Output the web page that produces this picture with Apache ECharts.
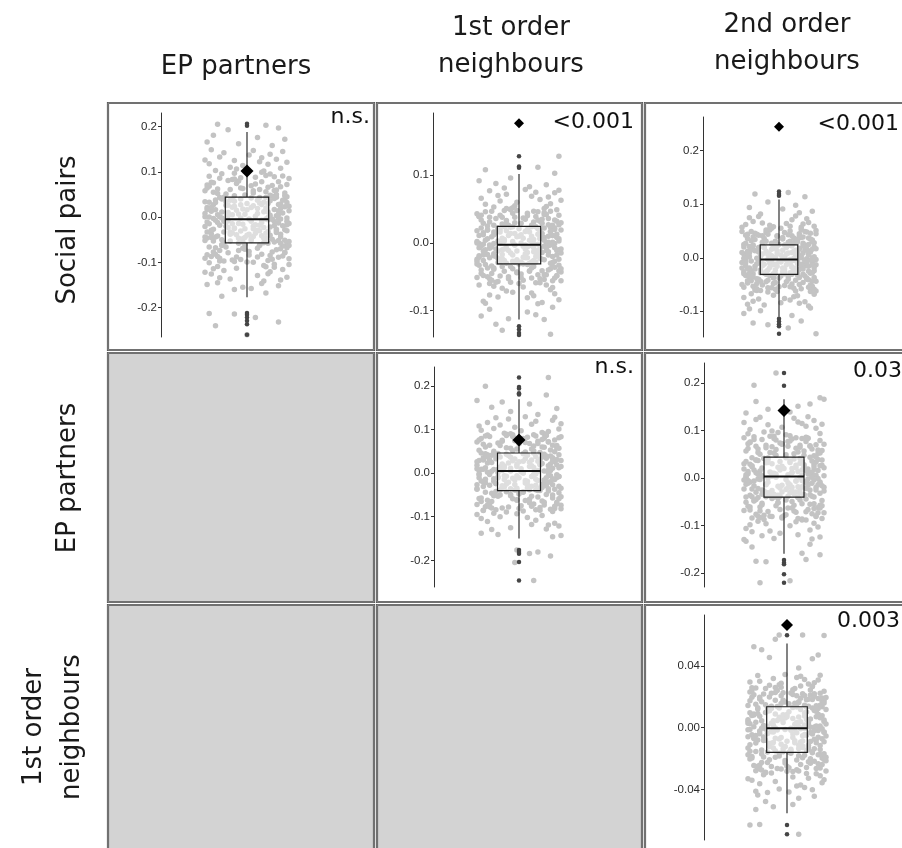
<!DOCTYPE html>
<html>
<head>
<meta charset="utf-8">
<script src="https://cdn.jsdelivr.net/npm/echarts@6/dist/echarts.min.js"></script>
<style>
  html, body { margin: 0; padding: 0; background: #fff; }
  #chart { width: 902px; height: 848px; }
</style>
</head>
<body>
<div id="chart"></div>
<script>
// ---- Matrix labels -------------------------------------------------------
const columnGroups = [['EP partners'], ['1st order', 'neighbours'], ['2nd order', 'neighbours']];
const rowGroups = [['Social pairs'], ['EP partners'], ['1st order', 'neighbours']];

// ---- Permutation distributions ------------------------------------------
// Each cloud point: [jitter step (-20..20), value in thousandths]
const spEpCloud = [
  [-14,205],[9,203],[-16,181],[18,172],[-4,162],[12,158],[-9,193],[5,176],[-19,166],[15,197],
  [-11,142],[7,131],[-18,118],[3,147],[16,108],[-6,125],[11,139],[-15,103],[19,121],[-2,114],[8,102],[-13,133],[14,128],[-8,110],[1,137],[-20,126],[17,145],[-5,106],[10,117],[-17,149],[6,122],[-1,101],
  [-12,96],[4,88],[-19,71],[13,59],[-7,83],[18,47],[-3,64],[9,92],[-16,55],[15,78],[-10,51],[2,69],[20,85],[-14,62],[7,99],[-5,74],[12,46],[-18,90],[16,67],[-9,81],[3,53],[-20,58],[11,95],[-1,49],[19,72],[-13,86],[6,61],[-6,97],[14,50],[-17,77],[10,66],[-11,44],[17,91],
  [-15,38],[8,12],[-3,27],[19,-2],[-11,41],[5,19],[14,3],[-18,33],[1,-4],[-7,22],[11,36],[-20,8],[16,29],[-5,15],[9,43],[-13,1],[3,25],[18,39],[-9,10],[13,17],[-16,-3],[6,31],[-1,6],[20,24],[-12,40],[10,-1],[-6,35],[15,14],[-19,21],[2,42],[-14,5],[7,28],[17,9],[-8,37],[12,-5],[-2,18],[19,32],[-17,13],[4,2],[-10,26],[14,44],[-4,7],[9,20],[-20,34],[16,-4],[0,30],[-15,16],[11,4],[-7,39],[18,23],[-12,11],[5,37],[-18,0],[13,41],[-3,-2],[8,33],[-16,27],[20,14],[-9,3],[2,21],[-13,43],[15,6],[-6,24],[10,30],[-19,17],
  [-14,-12],[7,-41],[-2,-55],[18,-28],[-9,-8],[12,-49],[-19,-33],[4,-17],[15,-52],[-6,-24],[10,-6],[-17,-45],[1,-38],[20,-14],[-11,-56],[6,-30],[-4,-47],[13,-10],[-20,-21],[9,-36],[-8,-53],[17,-19],[-15,-7],[3,-43],[-1,-26],[14,-34],[-12,-50],[19,-9],[-5,-39],[11,-22],[-18,-15],[8,-57],[-3,-31],[16,-44],[-10,-11],[2,-48],[-16,-27],[12,-5],[-7,-35],[20,-54],[-13,-18],[5,-29],[-19,-46],[15,-13],[0,-40],[-9,-23],[18,-51],[-2,-16],[10,-32],[-14,-42],[7,-7],[-6,-25],[13,-55],[-17,-37],[3,-20],[19,-30],[-11,-9],[9,-47],[-4,-14],[16,-38],[-20,-52],[6,-18],[-8,-33],[14,-27],[-15,-44],
  [-12,-63],[5,-88],[-18,-101],[14,-72],[-3,-94],[19,-59],[-9,-79],[8,-107],[-15,-68],[11,-85],[-6,-98],[17,-64],[1,-76],[-20,-91],[13,-104],[-1,-61],[7,-82],[-14,-109],[16,-70],[-7,-95],[10,-58],[-17,-87],[3,-100],[18,-78],[-10,-66],[12,-93],[-4,-74],[20,-105],[-19,-83],[6,-62],[-13,-97],[15,-89],[-2,-69],[9,-110],[-16,-77],
  [-11,-118],[8,-141],[-17,-126],[15,-152],[-5,-113],[19,-133],[2,-158],[-14,-145],[11,-121],[-8,-137],[17,-116],[-19,-149],[5,-129],[-2,-155],[13,-111],[-13,-134],[7,-147],[-20,-122],[16,-139],[-6,-160],[10,-125],[-16,-114],
  [-12,-175],[9,-168],[-18,-213],[-6,-214],[4,-222],[15,-232],[-15,-240],[0,-260],
  [-17,22],[4,-36],[-8,61],[13,-19],[-1,-71],[19,45],[-12,-2],[7,78],[-20,-44],[10,11],[-5,-88],[16,-58],[-14,52],[2,-9],[18,-79],[-10,34],[6,-62],[-3,87],[14,-30],[-18,-66],[9,56],[-7,-15],[20,-92],[0,16],[-15,-82],[12,70],[-2,-48],[17,37],[-11,-97],[5,8],[-19,64],[11,-40],[-6,47],[15,-3],[-13,-74],[3,58],[-16,-53],[8,-23],[-4,80],[19,-68],[-9,26],[1,-84],[13,89],[-17,-29],[6,43],[-12,-61],[16,19],[-1,-45],[10,-96],[-20,1],[4,73],[-8,-38],[18,53],[-14,-87],[7,-12],[-3,40],[12,-77],[-18,68],[2,-52],[15,28],[-10,-20],[20,-63],[-6,84],[9,-4],[-15,32],[0,-99],[14,60],[-11,-33],[5,-69],[-19,-11],[11,48],[-4,-58],[17,-86],[-7,5],[3,-26],[-16,76],[8,-47],[-2,63],[19,-17],[-13,-91]
];
const spFirstCloud = [
  [-16,108],[9,112],[19,128],[-4,96],[13,86],[-11,88],[5,83],[-19,92],[17,103],[-7,81],
  [-14,77],[6,69],[-2,55],[17,74],[-9,62],[12,51],[-18,66],[3,79],[15,58],[-6,72],[10,64],[-12,53],[19,78],[-1,60],[8,75],[-16,57],[14,68],[-4,50],[20,63],[-10,70],
  [-13,47],[7,31],[-19,39],[16,26],[-3,44],[11,35],[-8,28],[18,49],[2,37],[-15,25],[13,42],[-6,33],[9,46],[-17,29],[4,40],[-11,36],[20,30],[-1,48],[14,27],[-20,43],[6,24],[-9,41],[17,34],[-5,26],[12,45],[-14,38],[1,29],[19,41],[-7,48],[10,32],[-18,34],[15,47],[-2,30],[8,39],[-12,26],
  [-15,19],[6,3],[-2,14],[17,-1],[-10,22],[12,8],[-19,11],[3,-3],[15,17],[-7,5],[9,21],[-17,-2],[1,12],[19,6],[-12,16],[7,-1],[-4,23],[14,10],[-20,2],[10,18],[-8,7],[18,13],[-14,-3],[4,20],[-1,9],[16,1],[-11,15],[8,24],[-16,4],[13,-2],[-5,11],[20,19],[-9,0],[2,7],[-18,22],[11,14],[-3,2],[15,23],[-13,9],[5,16],[-19,-1],[12,4],[-6,18],[18,8],[0,21],[-15,6],[9,13],[-10,3],[17,20],[-2,-3],[6,10],[-17,15],[14,1],[-7,24],[10,7],[-12,12],[3,17],[19,3],[-20,18],[7,5],[-4,14],[16,11],[-9,20],[1,0],[12,22],
  [-14,-8],[7,-26],[-3,-18],[18,-11],[-10,-29],[12,-5],[-19,-21],[4,-14],[15,-30],[-6,-7],[10,-23],[-16,-16],[1,-28],[20,-9],[-12,-19],[6,-4],[-1,-25],[14,-13],[-20,-31],[9,-17],[-8,-10],[17,-27],[-13,-6],[3,-22],[-4,-15],[16,-29],[-17,-12],[8,-20],[-2,-3],[19,-24],[-11,-9],[5,-30],[-15,-17],[13,-7],[-7,-26],[11,-14],[-18,-5],[2,-21],[-5,-11],[18,-18],[-9,-28],[14,-4],[-20,-24],[7,-13],[0,-31],[-12,-16],[10,-8],[-3,-27],[16,-20],[-16,-10],[4,-6],[-10,-23],[20,-15],[-6,-30],[9,-11],[-19,-19],[12,-25],[-1,-12],[15,-3],[-14,-22],[6,-28],[-8,-17],[17,-7],[-17,-26],[3,-9],
  [-13,-34],[6,-52],[-18,-45],[15,-38],[-4,-58],[11,-41],[-9,-49],[19,-33],[2,-55],[-15,-37],[13,-47],[-7,-42],[8,-59],[-20,-51],[17,-36],[-1,-44],[10,-53],[-12,-39],[4,-32],[16,-56],[-17,-48],[7,-35],[-5,-50],[20,-43],[-10,-57],[14,-40],[-19,-33],[1,-46],[12,-54],[-3,-38],[18,-49],[-14,-60],[5,-41],[-8,-35],[9,-47],
  [-12,-64],[7,-78],[-17,-86],[15,-69],[-3,-73],[11,-88],[-19,-62],[4,-81],[17,-75],[-8,-67],[9,-90],[-14,-77],[2,-65],[19,-84],[-6,-71],[13,-62],[-16,-89],[6,-74],[-10,-80],[16,-66],
  [-14,-98],[8,-106],[-5,-112],[16,-95],[-18,-108],[12,-113],[-8,-129],[4,-102],[15,-135],[-11,-120],
  [-17,12],[4,-22],[-8,38],[13,-11],[-1,-43],[19,27],[-12,-1],[7,47],[-20,-27],[10,6],[-5,-53],[16,-35],[-14,31],[2,-5],[18,-48],[-10,20],[6,-37],[-3,52],[14,-18],[-18,-40],[9,34],[-7,-9],[20,-56],[0,10],[-15,-50],[12,42],[-2,-29],[17,22],[-11,-58],[5,4],[-19,39],[11,-24],[-6,28],[15,-2],[-13,-45],[3,35],[-16,-32],[8,-14],[-4,49],[19,-41],[-9,16],[1,-51],[13,54],[-17,-18],[6,26],[-12,-37],[16,11],[-1,-27],[10,-59],[-20,0],[4,44],[-8,-23],[18,32],[-14,-53],[7,-7],[-3,24],[12,-47],[-18,41],[2,-31],[15,17],[-10,-12],[20,-38],[-6,51],[9,-2],[-15,19],[0,-60],[14,36],[-11,-20],[5,-42],[-19,-7],[11,29],[-4,-35],[17,-52],[-7,3],[3,-16],[-16,46],[8,-28],[-2,38],[19,-10],[-13,-55]
];
const spSecondCloud = [
  [-13,119],[5,122],[14,114],[-16,94],[9,98],[-6,104],[18,87],[-10,82],[2,91],[11,84],
  [-18,62],[7,71],[-3,58],[16,66],[-11,77],[12,53],[-20,57],[4,64],[19,59],[-7,52],[9,78],[-14,68],[1,55],[15,73],[-5,61],[20,51],[-16,75],[6,59],[-9,65],[13,63],
  [-12,44],[8,28],[-17,36],[15,48],[-2,31],[11,40],[-19,25],[5,43],[18,33],[-7,47],[13,27],[-14,39],[2,35],[20,45],[-9,29],[7,41],[-4,26],[16,37],[-20,49],[10,30],[-11,42],[3,24],[17,46],[-15,32],[12,38],[-6,44],[19,28],[-1,40],[9,34],[-18,27],[14,49],[-8,36],[6,31],[-13,46],[0,25],
  [-16,21],[9,5],[-4,16],[18,0],[-11,11],[13,23],[-19,7],[2,14],[15,-2],[-8,19],[10,3],[-14,24],[5,9],[20,17],[-2,1],[7,22],[-17,12],[16,6],[-6,-3],[11,18],[-20,10],[3,2],[14,15],[-9,23],[8,-1],[-13,13],[19,20],[-1,8],[12,4],[-15,17],[6,24],[-5,6],[17,11],[-18,-2],[4,19],[-10,3],[13,9],[-3,21],[9,14],[-12,-1],[18,16],[1,5],[-7,12],[15,22],[-16,2],[10,8],[-2,18],[20,-3],[-14,15],[5,23],[-9,7],[12,0],[-19,20],[7,10],[-4,4],[16,13],[-11,19],[2,-2],[14,24],[-17,6],[11,16],[-6,9],[19,2],[-1,22],[8,12],
  [-15,-6],[8,-22],[-3,-13],[17,-29],[-11,-9],[12,-18],[-19,-26],[4,-4],[15,-15],[-7,-31],[10,-11],[-17,-20],[1,-7],[19,-24],[-13,-16],[6,-28],[-5,-10],[14,-5],[-20,-19],[9,-27],[-9,-14],[18,-8],[-14,-30],[3,-21],[-2,-12],[16,-25],[-18,-5],[7,-17],[-6,-23],[20,-13],[-10,-28],[5,-8],[-16,-19],[13,-31],[-4,-6],[11,-22],[-12,-11],[2,-26],[-1,-16],[17,-4],[-8,-29],[14,-14],[-20,-9],[9,-20],[-15,-24],[0,-7],[12,-12],[-7,-27],[19,-18],[-3,-30],[6,-3],[-13,-21],[15,-10],[-18,-15],[8,-25],[-5,-18],[18,-28],[-11,-4],[4,-13],[-16,-29],[10,-6],[-2,-23],[16,-16],[-9,-11],[3,-30],
  [-14,-36],[7,-49],[-19,-55],[16,-41],[-5,-33],[12,-58],[-10,-44],[19,-37],[3,-52],[-17,-47],[14,-34],[-2,-59],[9,-42],[-12,-39],[18,-53],[-7,-45],[5,-35],[-20,-50],[13,-46],[-4,-56],[10,-32],[-15,-43],[17,-57],[0,-38],[-9,-51],[15,-40],[-18,-33],[6,-54],[-3,-48],[20,-44],[-13,-60],[11,-37],[-6,-42],[8,-57],[-16,-35],
  [-15,-67],[6,-79],[-8,-88],[17,-63],[-19,-74],[11,-85],[-3,-70],[14,-82],[-12,-61],[3,-76],[19,-68],[-17,-87],[8,-73],[-6,-64],[16,-90],[-11,-77],[1,-84],[20,-62],[-14,-81],[10,-71],
  [-16,-95],[7,-108],[-10,-99],[17,-94],[-14,-122],[12,-118],[-6,-125],[5,-131],[20,-142],[-19,-104],
  [-16,9],[3,-25],[-9,41],[12,-13],[-2,-46],[18,30],[-11,-4],[6,50],[-19,-30],[9,3],[-6,-56],[15,-38],[-13,34],[1,-8],[17,-51],[-9,22],[5,-40],[-4,55],[13,-21],[-17,-43],[8,37],[-8,-12],[19,-59],[-1,13],[-14,-53],[11,45],[-3,-32],[16,25],[-10,-61],[4,7],[-18,42],[10,-27],[-7,31],[14,-5],[-12,-48],[2,38],[-15,-35],[7,-17],[-5,52],[18,-44],[-8,19],[0,-54],[12,57],[-16,-21],[5,29],[-11,-40],[15,14],[-2,-30],[9,-62],[-19,-1],[3,47],[-7,-26],[17,35],[-13,-56],[6,-10],[-4,27],[11,-50],[-17,44],[1,-34],[14,20],[-9,-15],[19,-41],[-5,54],[8,-5],[-14,22],[-1,-63],[13,39],[-10,-23],[4,-45],[-18,-9],[10,32],[-3,-38],[16,-55],[-6,6],[2,-19],[-15,49],[7,-31],[-1,41],[18,-13],[-12,-58]
];
const epFirstCloud = [
  [14,219],[-16,199],[13,179],[-20,166],[-8,163],[5,158],[-13,151],[18,148],[-4,141],[9,134],
  [-11,127],[6,112],[-18,98],[16,121],[-2,105],[11,93],[-15,116],[3,129],[19,101],[-7,91],[8,119],[-19,108],[14,95],[-5,124],[20,113],[-12,102],[1,97],[17,128],[-9,110],[12,90],
  [-14,84],[7,62],[-20,71],[15,53],[-3,88],[10,47],[-17,66],[2,79],[18,58],[-8,75],[13,86],[-12,50],[5,68],[-1,55],[19,81],[-16,60],[9,73],[-6,89],[16,64],[-19,52],[11,77],[-10,69],[3,48],[20,83],[-4,57],[14,72],[-15,87],[7,51],[-9,63],[17,76],[-2,80],[12,59],[-18,46],[0,67],[8,85],
  [-13,41],[6,17],[-19,29],[15,8],[-4,36],[11,22],[-16,12],[2,44],[18,31],[-8,6],[9,27],[-11,39],[20,15],[-1,20],[13,34],[-18,9],[5,25],[-6,43],[16,11],[-14,30],[8,38],[-20,18],[12,5],[-3,28],[19,42],[-9,14],[3,33],[-15,23],[14,7],[-5,40],[10,19],[-17,35],[1,10],[17,26],[-12,45],[7,13],[-2,32],[15,21],[-19,6],[11,37],[-7,16],[20,29],[-13,24],[4,41],[-10,8],[18,19],[-16,44],[6,30],[-4,11],[13,39],[-20,26],[9,6],[-8,21],[16,35],[-1,15],[12,43],[-17,9],[2,27],[19,12],[-11,33],[7,46],[-5,23],[14,17],[-15,37],[10,31],
  [-14,-3],[8,-28],[-2,-16],[17,-37],[-10,1],[12,-22],[-19,-11],[4,-34],[15,-6],[-6,-25],[10,-40],[-16,-14],[1,3],[19,-30],[-12,-19],[6,-8],[-4,-36],[14,-1],[-20,-27],[9,-17],[-8,-33],[18,-10],[-13,4],[3,-23],[-1,-39],[16,-13],[-17,-31],[7,-5],[-5,-21],[20,-35],[-10,-9],[11,-26],[-15,2],[5,-38],[-3,-12],[13,-29],[-18,-18],[8,-2],[-7,-32],[17,-15],[-11,-24],[2,0],[-20,-37],[15,-20],[-6,-7],[10,-34],[-14,-28],[0,-11],[18,-4],[-9,-39],[12,-16],[-2,-26],[19,-8],[-16,-22],[6,-30],[-4,5],[14,-36],[-12,-13],[4,-19],[-19,-3],[9,-40],[-7,-15],[16,-27],[-1,-6],[11,-33],
  [-13,-46],[7,-71],[-19,-58],[15,-83],[-4,-52],[11,-64],[-16,-77],[2,-44],[18,-67],[-8,-80],[9,-55],[-11,-42],[20,-74],[-1,-61],[13,-49],[-17,-85],[5,-68],[-6,-43],[16,-57],[-20,-72],[10,-79],[-9,-50],[3,-63],[19,-45],[-14,-70],[8,-84],[-3,-59],[14,-41],[-18,-65],[6,-76],[-10,-53],[17,-81],[0,-48],[12,-73],[-15,-62],
  [-12,-92],[6,-118],[-18,-104],[16,-88],[-4,-125],[11,-97],[-15,-111],[2,-87],[19,-121],[-9,-100],[13,-128],[-20,-95],[8,-108],[-6,-89],[17,-115],[-13,-129],[4,-102],[-1,-93],[14,-119],[-17,-86],
  [-18,-138],[16,-146],[20,-143],[-10,-141],[-1,-176],[5,-184],[9,-181],[15,-190],[-2,-205],[7,-246],
  [-17,30],[4,-27],[-8,73],[13,-11],[-1,-62],[19,57],[-12,8],[7,88],[-20,-36],[10,20],[-5,-78],[16,-50],[-14,64],[2,0],[18,-70],[-10,45],[6,-53],[-3,84],[14,-21],[-18,-57],[9,68],[-7,-6],[20,-82],[0,26],[-15,-73],[12,80],[-2,-39],[17,49],[-11,-84],[5,15],[-19,76],[11,-31],[-6,58],[15,6],[-13,-65],[3,70],[-16,-44],[8,-14],[-4,90],[19,-59],[-9,37],[1,-75],[13,87],[-17,-20],[6,55],[-12,-52],[16,28],[-1,-35],[10,-85],[-20,10],[4,82],[-8,-29],[18,63],[-14,-77],[7,-3],[-3,51],[12,-67],[-18,79],[2,-43],[15,39],[-10,-11],[20,-54],[-6,86],[9,4],[-15,42],[0,-81],[14,71],[-11,-24],[5,-60],[-19,-2],[11,60],[-4,-49],[17,-76],[-7,13],[3,-17],[-16,85],[8,-38],[-2,74],[19,-8],[-13,-80]
];
const epSecondCloud = [
  [-4,221],[-15,195],[18,169],[20,166],[-14,161],[7,151],[-8,145],[13,156],[-19,137],[3,139],
  [-12,128],[9,115],[-17,102],[15,121],[-3,96],[11,109],[-20,117],[5,126],[18,94],[-8,112],[1,91],[-14,123],[16,105],[-6,99],[12,129],[-18,93],[7,118],[-1,107],[19,113],[-10,97],
  [-15,87],[6,63],[-2,74],[17,52],[-11,81],[13,68],[-19,57],[3,89],[15,47],[-6,66],[9,83],[-13,54],[20,71],[-4,60],[11,86],[-17,76],[1,49],[18,79],[-9,64],[7,55],[-20,85],[14,61],[-1,72],[10,48],[-14,67],[4,82],[19,58],[-7,88],[16,70],[-12,50],[2,77],[-18,62],[12,84],[-5,53],[8,69],
  [-14,38],[7,14],[-1,25],[16,6],[-10,41],[12,19],[-18,9],[3,33],[19,27],[-6,4],[9,36],[-15,17],[1,43],[14,11],[-20,30],[6,22],[-4,8],[17,39],[-12,15],[10,28],[-8,42],[20,5],[-16,24],[4,12],[-2,35],[15,18],[-19,3],[8,31],[-11,21],[13,44],[-5,10],[18,26],[-13,37],[2,7],[11,16],[-17,29],[5,40],[-7,13],[16,34],[-20,19],[9,6],[-3,23],[19,38],[-14,11],[6,27],[-9,32],[14,3],[0,20],[-16,43],[12,9],[-6,30],[17,16],[-11,5],[3,36],[20,22],[-18,14],[8,41],[-2,17],[15,29],[-13,8],[10,24],[-19,35],[4,20],[-8,39],[13,12],
  [-13,-2],[8,-31],[-3,-17],[18,-8],[-17,-36],[11,-22],[-8,0],[4,-27],[15,-40],[-19,-13],[9,-5],[-5,-34],[20,-19],[-11,-25],[2,-10],[14,-38],[-15,-6],[6,-29],[-1,-15],[17,-1],[-9,-39],[12,-12],[-20,-23],[5,-33],[-4,2],[16,-20],[-14,-30],[10,-7],[-7,-37],[19,-16],[-12,-3],[1,-24],[13,-35],[-18,-11],[7,-40],[-2,-21],[15,-4],[-10,-28],[3,-14],[-16,-39],[11,-9],[-6,-26],[18,-32],[-19,1],[9,-18],[-3,-36],[14,-11],[-13,-22],[6,-6],[-8,-31],[20,-27],[-15,-16],[2,-38],[12,-2],[-11,-34],[17,-14],[-1,-29],[8,-23],[-17,-8],[4,-19],[-5,-40],[16,-25],[-20,-4],[10,-35],[-9,-13],
  [-14,-45],[6,-72],[-18,-59],[16,-81],[-3,-52],[12,-66],[-10,-78],[19,-47],[2,-63],[-16,-84],[9,-54],[-6,-43],[14,-75],[-20,-68],[4,-49],[-12,-61],[18,-57],[-1,-82],[11,-44],[-8,-70],[15,-64],[-19,-51],[7,-85],[-4,-58],[20,-73],[-13,-41],[1,-77],[13,-55],[-17,-67],[8,-46],[-7,-80],[17,-62],[-11,-53],[5,-69],[-15,-48],
  [-13,-91],[7,-119],[-19,-106],[15,-95],[-5,-127],[11,-88],[-16,-113],[3,-100],[18,-124],[-9,-96],[13,-109],[-20,-129],[6,-92],[-2,-116],[17,-103],[-11,-121],[9,-86],[-17,-98],[14,-128],[-7,-111],
  [-16,-145],[13,-139],[-19,-133],[9,-158],[-14,-175],[-9,-176],[11,-171],[-12,-220],[3,-216],[18,-161],
  [-16,26],[3,-31],[-9,69],[12,-15],[-2,-66],[18,53],[-11,4],[6,85],[-19,-40],[9,17],[-6,-81],[15,-54],[-13,61],[1,-3],[17,-73],[-10,41],[5,-57],[-4,80],[13,-25],[-17,-61],[8,65],[-8,-9],[19,-85],[-1,23],[-14,-76],[11,77],[-3,-43],[16,45],[-10,-87],[4,12],[-18,72],[10,-35],[-7,54],[14,2],[-12,-69],[2,67],[-15,-47],[7,-18],[-5,88],[18,-63],[-8,33],[0,-79],[12,84],[-16,-23],[5,51],[-11,-56],[15,24],[-2,-38],[9,-88],[-19,7],[3,78],[-7,-32],[17,59],[-13,-80],[6,-6],[-4,48],[11,-71],[-17,75],[1,-46],[14,36],[-9,-14],[19,-58],[-5,83],[8,1],[-14,38],[-1,-84],[13,67],[-10,-27],[4,-63],[-18,-5],[10,57],[-3,-52],[16,-79],[-6,10],[2,-20],[-15,81],[7,-41],[-1,71],[18,-11],[-12,-83]
];
const firstSecondCloud = [
  [-4,60.2],[8,60.1],[19,59.8],[-6,57.4],[-17,52.5],[-13,50.6],[16,47.2],[-9,45.5],[13,44.8],[6,38.8],
  [-15,33.8],[9,31.2],[-3,28.9],[17,34.1],[-11,25.4],[5,32.6],[-19,29.7],[13,26.8],[-7,31.9],[19,23.6],[-1,34.5],[11,28.3],[-14,30.1],[3,24.7],[16,30.9],[-9,27.6],[7,33.4],[-18,25.9],[14,29.2],[-5,24.1],
  [-12,21.9],[6,16.4],[-18,19.8],[15,14.2],[-3,20.7],[10,18.1],[-16,15.3],[2,22.6],[18,17.2],[-8,13.9],[12,21.2],[-14,18.7],[4,15.8],[20,19.6],[-6,22.8],[9,14.6],[-19,17.5],[14,20.3],[-1,16.7],[17,22.4],[-11,14.9],[7,19.1],[-5,13.7],[13,18.3],[-17,21.4],[1,15.5],[19,16.1],[-9,19.9],[11,14.0],[-13,16.9],[5,20.8],[-20,14.4],[16,18.9],[-2,17.8],[8,22.1],
  [-15,12.1],[7,3.8],[-2,8.4],[17,1.2],[-10,10.9],[12,5.7],[-19,2.6],[3,13.1],[15,7.1],[-6,-0.2],[9,9.6],[-13,4.5],[20,11.8],[-1,6.3],[14,0.4],[-17,8.9],[5,13.4],[-8,2.9],[18,7.7],[-12,1.5],[10,10.2],[-20,5.2],[2,-0.4],[16,12.5],[-4,6.8],[11,3.3],[-15,9.2],[6,0.8],[-9,11.4],[19,4.1],[-18,7.9],[4,2.2],[13,12.8],[-3,5.6],[8,-0.1],[-11,9.9],[17,6.4],[-7,1.8],[15,10.7],[-16,3.6],[0,8.6],[12,0.3],[-14,7.4],[7,11.9],[-5,4.7],[20,2.5],[-19,9.7],[3,6.0],[10,13.2],[-10,1.0],[16,8.2],[-2,3.4],[14,11.2],[-13,-0.3],[6,7.0],[-8,12.4],[19,5.0],[-17,0.6],[1,10.4],[11,1.9],[-6,8.9],[18,13.6],[-20,4.2],[9,7.6],[-4,12.8],
  [-14,-2.2],[8,-11.8],[-3,-6.4],[17,-14.1],[-10,-3.7],[12,-8.9],[-19,-15.3],[4,-1.0],[15,-7.6],[-7,-13.1],[10,-4.8],[-16,-9.9],[1,-15.9],[19,-2.8],[-12,-8.3],[6,-11.2],[-5,-1.5],[14,-13.7],[-20,-5.8],[9,-0.5],[-9,-10.2],[18,-7.1],[-13,-14.5],[3,-4.1],[-1,-12.4],[16,-1.8],[-17,-6.7],[7,-9.3],[-6,-15.0],[20,-5.3],[-11,-0.8],[11,-12.8],[-15,-7.9],[5,-3.3],[-3,-10.7],[13,-15.6],[-18,-4.5],[8,-8.6],[-8,-2.6],[17,-11.5],[-12,-6.0],[2,-13.9],[-20,-1.3],[15,-9.7],[-4,-7.3],[10,-14.7],[-14,-3.9],[0,-8.8],[18,-0.6],[-9,-12.1],[12,-3.1],[-2,-15.5],[19,-9.1],[-16,-5.0],[6,-13.4],[-6,-6.8],[14,-2.0],[-19,-11.0],[4,-8.4],[-10,-15.8],[9,-4.4],[-7,-9.6],[16,-6.2],[-1,-1.2],[11,-14.3],
  [-13,-17.1],[7,-23.8],[-19,-20.3],[15,-26.5],[-4,-18.4],[11,-22.1],[-16,-27.9],[2,-16.6],[18,-19.7],[-8,-25.2],[9,-17.8],[-11,-28.9],[20,-21.4],[-1,-22.9],[13,-16.2],[-17,-24.5],[5,-27.2],[-6,-19.1],[16,-23.3],[-20,-17.6],[10,-25.8],[-9,-20.7],[3,-28.4],[19,-16.9],[-14,-24.3],[8,-19.4],[-3,-26.7],[14,-21.8],[-18,-18.6],[6,-28.1],[-10,-22.6],[17,-17.3],[0,-24.9],[12,-20.1],[-15,-26.1],
  [-12,-30.5],[7,-37.2],[-18,-34.1],[15,-29.8],[-4,-39.8],[11,-32.7],[-16,-41.2],[3,-31.9],[18,-35.6],[-8,-29.4],[9,-38.7],[-14,-36.3],[1,-41.6],[17,-31.1],[-6,-34.9],[13,-40.2],[-20,-33.1],[5,-37.8],[-10,-42.0],[19,-33.8],
  [-15,-43.6],[6,-45.8],[-11,-47.9],[14,-44.5],[-7,-51.2],[3,-49.7],[-16,-53.1],[-19,-63.0],[-14,-62.8],[6,-69.0],
  [-17,8.2],[4,-9.8],[-8,22.4],[13,-4.1],[-1,-21.3],[19,17.6],[-12,0.9],[7,27.1],[-20,-13.2],[10,5.3],[-5,-26.4],[16,-17.5],[-14,19.8],[2,-1.6],[18,-23.9],[-10,13.1],[6,-18.2],[-3,26.3],[14,-7.4],[-18,-19.6],[9,20.9],[-7,-2.8],[20,-28.1],[0,7.2],[-15,-25.0],[12,24.5],[-2,-13.7],[17,14.6],[-11,-29.2],[5,3.4],[-19,23.1],[11,-11.3],[-6,17.9],[15,1.1],[-13,-22.5],[3,21.6],[-16,-15.4],[8,-5.2],[-4,27.8],[19,-20.6],[-9,11.0],[1,-25.9],[13,26.9],[-17,-7.0],[6,16.8],[-12,-18.9],[16,8.8],[-1,-12.2],[10,-29.6],[-20,2.9],[4,25.4],[-8,-10.1],[18,19.3],[-14,-26.8],[7,-0.7],[-3,15.7],[12,-23.0],[-18,24.0],[2,-14.9],[15,12.3],[-10,-3.6],[20,-19.2],[-6,26.1],[9,1.8],[-15,12.9],[0,-28.3],[14,22.0],[-11,-8.1],[5,-21.0],[-19,-1.2],[11,18.4],[-4,-16.6],[17,-26.1],[-7,4.6],[3,-6.3],[-16,25.7],[8,-12.8],[-2,22.7],[19,-3.0],[-13,-27.4]
];

// Box summaries in thousandths: [lower whisker, Q1, median, Q3, upper whisker]
const spEpBox = [-177, -57, -5, 44, 188];
const spFirstBox = [-113, -31, -2.5, 24.5, 102];
const spSecondBox = [-110, -31, -3, 24, 109];
const epFirstBox = [-150, -40, 5, 46, 169];
const epSecondBox = [-159, -40, 3.5, 44, 166];
const firstSecondBox = [-55.5, -16, -0.4, 13.6, 54.7];

// Points beyond the whiskers, thousandths
const spEpOutliers = [206, 202, -212, -216, -222, -229, -237, -260];
const spFirstOutliers = [128, 113, 111, -123, -128, -133, -136];
const spSecondOutliers = [124, 119, 116, -114, -119, -124, -128, -142];
const epFirstOutliers = [219, 197, 194, 183, 180, -176, -181, -185, -204, -246];
const epSecondOutliers = [221, 194, -172, -178, -181, -202, -220];
const firstSecondOutliers = [60, -63, -69];

// Observed values (diamonds), thousandths
const observedValues = [102, 177, 245, 76, 142, 66.6];

// p-values printed in each panel
const pValues = ['n.s.', '<0.001', '<0.001', 'n.s.', '0.03', '0.003'];

// Tick positions on each y axis
const spEpTicks = [-0.2, -0.1, 0, 0.1, 0.2];
const spFirstTicks = [-0.1, 0, 0.1];
const spSecondTicks = [-0.1, 0, 0.1, 0.2];
const epFirstTicks = [-0.2, -0.1, 0, 0.1, 0.2];
const epSecondTicks = [-0.2, -0.1, 0, 0.1, 0.2];
const firstSecondTicks = [-0.04, 0, 0.04];

// ---- Layout ---------------------------------------------------------------
const colX = [[108, 374], [377, 642], [645, 905]];
const rowY = [[103, 350], [353, 602], [605, 851]];

const panels = [
  { row: 0, col: 0, cloud: spEpCloud, box: spEpBox, out: spEpOutliers, obs: observedValues[0], p: pValues[0], ticks: spEpTicks, digits: 1,
    axisX: 161, centerX: 247, halfCloud: 42, boxHalf: 21.7, top: 113, bottom: 337, yMin: -0.265, yMax: 0.23, diamond: 13, pPos: [370, 117] },
  { row: 0, col: 1, cloud: spFirstCloud, box: spFirstBox, out: spFirstOutliers, obs: observedValues[1], p: pValues[1], ticks: spFirstTicks, digits: 1,
    axisX: 433, centerX: 519, halfCloud: 42, boxHalf: 21.7, top: 113, bottom: 337, yMin: -0.139, yMax: 0.192, diamond: 10, pPos: [634, 122] },
  { row: 0, col: 2, cloud: spSecondCloud, box: spSecondBox, out: spSecondOutliers, obs: observedValues[2], p: pValues[2], ticks: spSecondTicks, digits: 1,
    axisX: 703, centerX: 779, halfCloud: 37, boxHalf: 18.8, top: 117, bottom: 337, yMin: -0.148, yMax: 0.263, diamond: 10, pPos: [899, 124] },
  { row: 1, col: 1, cloud: epFirstCloud, box: epFirstBox, out: epFirstOutliers, obs: observedValues[3], p: pValues[3], ticks: epFirstTicks, digits: 1,
    axisX: 434, centerX: 519, halfCloud: 42, boxHalf: 21.5, top: 367, bottom: 587, yMin: -0.261, yMax: 0.243, diamond: 13, pPos: [634, 367] },
  { row: 1, col: 2, cloud: epSecondCloud, box: epSecondBox, out: epSecondOutliers, obs: observedValues[4], p: pValues[4], ticks: epSecondTicks, digits: 1,
    axisX: 704, centerX: 784, halfCloud: 40, boxHalf: 20, top: 363, bottom: 587, yMin: -0.229, yMax: 0.242, diamond: 13, pPos: [902, 371] },
  { row: 2, col: 2, cloud: firstSecondCloud, box: firstSecondBox, out: firstSecondOutliers, obs: observedValues[5], p: pValues[5], ticks: firstSecondTicks, digits: 2,
    axisX: 704, centerX: 787, halfCloud: 39, boxHalf: 20.3, top: 615, bottom: 840, yMin: -0.0728, yMax: 0.0731, diamond: 12, pPos: [900, 621] }
];
const emptyCells = [[1, 0], [2, 0], [2, 1]];

const milli = v => v / 1000;
const textFont = 'DejaVu Sans';

const grids = [], xAxes = [], yAxes = [], series = [];

panels.forEach((p, i) => {
  const ext = (p.centerX - p.axisX) / p.halfCloud * 20;
  const boxHalfUnits = p.boxHalf / p.halfCloud * 20;
  grids.push({ left: p.axisX, top: p.top, width: 2 * (p.centerX - p.axisX), height: p.bottom - p.top, containLabel: false });
  xAxes.push({ type: 'value', gridIndex: i, min: -ext, max: ext, show: false });
  yAxes.push({
    type: 'value', gridIndex: i, min: p.yMin, max: p.yMax,
    splitLine: { show: false },
    axisLine: { show: true, onZero: false, lineStyle: { color: '#333', width: 1 } },
    axisTick: { show: true, length: 3, customValues: p.ticks, lineStyle: { color: '#333', width: 1 } },
    axisLabel: {
      show: true, customValues: p.ticks, margin: 4, fontFamily: 'Liberation Sans', fontSize: 11.5, color: '#2a2a2a',
      formatter: v => v.toFixed(p.digits)
    }
  });

  // jittered permutation values
  series.push({
    type: 'scatter', xAxisIndex: i, yAxisIndex: i, silent: true, z: 2,
    symbol: 'circle', symbolSize: 5.5,
    itemStyle: { color: '#c3c3c3', opacity: 1 },
    data: p.cloud.map(([j, m]) => [j, milli(m)])
  });

  // box and whiskers
  series.push({
    type: 'custom', xAxisIndex: i, yAxisIndex: i, silent: true, z: 3,
    encode: { x: 0, y: 3 },
    data: [[0].concat(p.box.map(milli))],
    renderItem: (params, api) => {
      const cx = api.coord([0, api.value(3)])[0];
      const yLw = api.coord([0, api.value(1)])[1];
      const yQ1 = api.coord([0, api.value(2)])[1];
      const yMed = api.coord([0, api.value(3)])[1];
      const yQ3 = api.coord([0, api.value(4)])[1];
      const yUw = api.coord([0, api.value(5)])[1];
      const xl = api.coord([-boxHalfUnits, 0])[0];
      const xr = api.coord([boxHalfUnits, 0])[0];
      const line = { stroke: '#1c1c1c', lineWidth: 1.1 };
      return {
        type: 'group',
        children: [
          { type: 'line', shape: { x1: cx, y1: yUw, x2: cx, y2: yQ3 }, style: line },
          { type: 'line', shape: { x1: cx, y1: yQ1, x2: cx, y2: yLw }, style: line },
          { type: 'rect', shape: { x: xl, y: yQ3, width: xr - xl, height: yQ1 - yQ3 },
            style: { fill: 'rgba(255,255,255,0.45)', stroke: '#1c1c1c', lineWidth: 1.2 } },
          { type: 'line', shape: { x1: xl, y1: yMed, x2: xr, y2: yMed }, style: { stroke: '#111', lineWidth: 2 } }
        ]
      };
    }
  });

  // outliers
  series.push({
    type: 'scatter', xAxisIndex: i, yAxisIndex: i, silent: true, z: 4,
    symbol: 'circle', symbolSize: 4.5,
    itemStyle: { color: '#454545', opacity: 1 },
    data: p.out.map(m => [0, milli(m)])
  });

  // observed value
  series.push({
    type: 'scatter', xAxisIndex: i, yAxisIndex: i, silent: true, z: 5,
    symbol: 'diamond', symbolSize: [p.diamond, p.diamond],
    itemStyle: { color: '#000', opacity: 1 },
    data: [[0, milli(p.obs)]]
  });
});

// ---- Frames, headers and labels -------------------------------------------
const graphics = [];
function frame(row, col, fill) {
  const [x0, x1] = colX[col], [y0, y1] = rowY[row];
  const shape = { x: x0, y: y0, width: x1 - x0, height: y1 - y0 };
  graphics.push({ type: 'rect', z: -10, shape, style: { fill, stroke: '#5a5a5a', lineWidth: 2.2 } });
  graphics.push({ type: 'rect', z: -9, shape, style: { fill: 'none', stroke: '#a8a8a8', lineWidth: 0.6 } });
}
panels.forEach(p => frame(p.row, p.col, '#ffffff'));
emptyCells.forEach(([r, c]) => frame(r, c, '#d3d3d3'));

const headerCenters = [236, 511, 787];
const headerLineY = [[67], [28, 65], [25, 62]];
columnGroups.forEach((lines, c) => {
  lines.forEach((t, k) => {
    graphics.push({
      type: 'text', z: 10, x: headerCenters[c], y: headerLineY[c][k],
      style: { text: t, fontFamily: textFont, fontSize: 26, fill: '#1a1a1a', align: 'center', verticalAlign: 'middle', textAlign: 'center', textVerticalAlign: 'middle' }
    });
  });
});

const rowLabelY = [230, 478, 727];
const rowLabelX = [[68], [68], [34, 72]];
rowGroups.forEach((lines, r) => {
  lines.forEach((t, k) => {
    graphics.push({
      type: 'text', z: 10, x: rowLabelX[r][k], y: rowLabelY[r], rotation: Math.PI / 2,
      style: { text: t, fontFamily: textFont, fontSize: 26, fill: '#1a1a1a', align: 'center', verticalAlign: 'middle', textAlign: 'center', textVerticalAlign: 'middle' }
    });
  });
});

panels.forEach(p => {
  graphics.push({
    type: 'text', z: 10, x: p.pPos[0], y: p.pPos[1],
    style: { text: p.p, fontFamily: textFont, fontSize: 22, fill: '#111', align: 'right', verticalAlign: 'middle', textAlign: 'right', textVerticalAlign: 'middle' }
  });
});

const chart = echarts.init(document.getElementById('chart'), null, { renderer: 'canvas' });
chart.setOption({
  animation: false,
  backgroundColor: '#ffffff',
  grid: grids,
  xAxis: xAxes,
  yAxis: yAxes,
  series: series,
  graphic: { elements: graphics }
});
</script>
</body>
</html>
